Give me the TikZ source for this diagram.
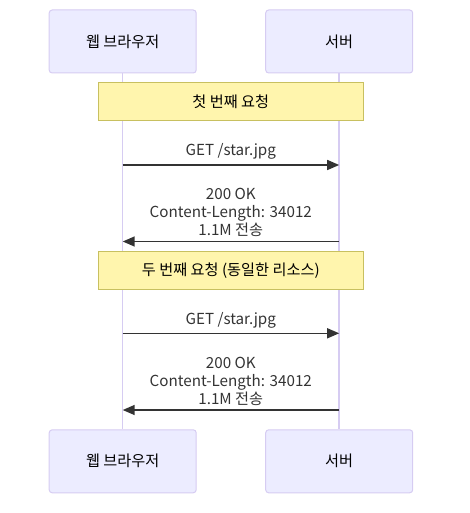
\documentclass[tikz,border=0pt]{standalone}
\usepackage{fontspec}
\setmainfont{Noto Sans CJK KR}
\usetikzlibrary{arrows.meta}
\definecolor{actfill}{HTML}{ECECFF}
\definecolor{actdraw}{HTML}{D6CCF2}
\definecolor{lifecol}{HTML}{D6CCF2}
\definecolor{notefill}{HTML}{FFF5AD}
\definecolor{notedraw}{HTML}{C8C060}
\definecolor{msgcol}{HTML}{333333}
\tikzset{
  actor/.style={draw=actdraw, fill=actfill, rounded corners=2.25pt, line width=0.75pt,
    minimum width=110.25pt, minimum height=47.25pt, inner sep=0pt, font=\fontsize{11.4pt}{14pt}\selectfont},
  notebox/.style={draw=notedraw, fill=notefill, line width=0.75pt,
    minimum width=198.75pt, minimum height=28.5pt, inner sep=0pt, font=\fontsize{11.4pt}{14pt}\selectfont},
  lifeline/.style={draw=lifecol, line width=1.1pt},
  msg/.style={draw=msgcol, line width=1.1pt, -{Triangle[length=9pt,width=7.5pt]}},
  lbl/.style={text=msgcol, font=\fontsize{11.4pt}{13.5pt}\selectfont, align=center, inner sep=0pt},
}
\begin{document}
\begin{tikzpicture}[x=0.75pt,y=-0.75pt]
\useasboundingbox (0,0) rectangle (470,513);
% lifelines
\coordinate (lt) at (122.7,73);
\coordinate (lb) at (122.7,429);
\coordinate (rt) at (339.2,73);
\coordinate (rb) at (339.2,429);
\draw[lifeline] (lt) -- (lb);
\draw[lifeline] (rt) -- (rb);
% actors
\node[actor] (a1) at (122.7,41.5) {웹 브라우저};
\node[actor] (b1) at (339.2,41.5) {서버};
\node[actor] (a2) at (122.7,461.3) {웹 브라우저};
\node[actor] (b2) at (339.2,461.3) {서버};
% notes
\node[notebox] (n1) at (230.8,102) {첫 번째 요청};
\node[notebox] (n2) at (230.8,270.8) {두 번째 요청 (동일한 리소스)};
% messages
\coordinate (m1s) at (122.7,165);
\coordinate (m1e) at (339.2,165);
\draw[msg] (m1s) -- (m1e);
\node[lbl] (t1) at (230.8,151.5) {GET /star.jpg};
\coordinate (m2s) at (339.2,241.5);
\coordinate (m2e) at (122.7,241.5);
\draw[msg] (m2s) -- (m2e);
\node[lbl] (t2) at (230.8,212.5) {200 OK\\Content-Length: 34012\\1.1M 전송};
\coordinate (m3s) at (122.7,333.3);
\coordinate (m3e) at (339.2,333.3);
\draw[msg] (m3s) -- (m3e);
\node[lbl] (t3) at (230.8,320) {GET /star.jpg};
\coordinate (m4s) at (339.2,410);
\coordinate (m4e) at (122.7,410);
\draw[msg] (m4s) -- (m4e);
\node[lbl] (t4) at (230.8,381.2) {200 OK\\Content-Length: 34012\\1.1M 전송};
\end{tikzpicture}
\end{document}
